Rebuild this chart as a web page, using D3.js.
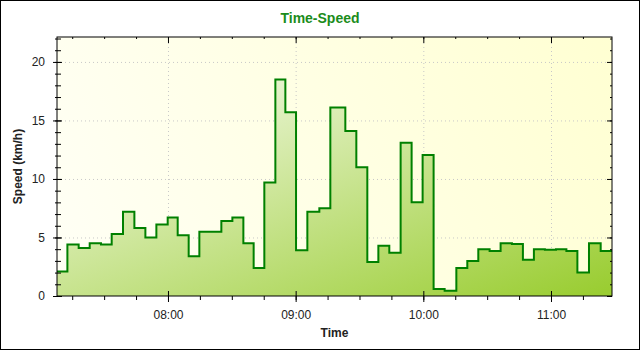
<!DOCTYPE html>
<html>
<head>
<meta charset="utf-8">
<script src="https://cdn.jsdelivr.net/npm/d3@7"></script>
<style>
  body { margin: 0; background: #fff; }
  #vis { width: 640px; height: 350px; }
  text { font-family: "Liberation Sans", Arial, sans-serif; }
  .tick text { font-size: 12px; fill: #222; }
  .axis path, .axis line { stroke: #000; }
  .grid line { stroke: #c8c8c8; stroke-dasharray: 1,3; }
  .grid path { display: none; }
</style>
</head>
<body>
<div id="vis"></div>
<script>
// step start times and speed (km/h) for each step
var times = ["07:07:51", "07:12:44", "07:18:02", "07:23:13", "07:28:31", "07:33:33", "07:38:52",
    "07:44:13", "07:49:23", "07:54:33", "07:59:52", "08:04:34", "08:09:44", "08:14:45",
    "08:25:05", "08:30:16", "08:35:26", "08:40:16", "08:45:17", "08:50:28", "08:55:10",
    "09:00:11", "09:05:30", "09:11:08", "09:16:18", "09:23:21", "09:28:31", "09:33:41",
    "09:38:52", "09:44:01", "09:49:20", "09:54:30", "09:59:40", "10:04:50", "10:10:01",
    "10:15:31", "10:20:40", "10:25:50", "10:31:09", "10:36:19", "10:41:38", "10:46:48",
    "10:51:58", "10:57:08", "11:02:21", "11:07:14", "11:12:24", "11:17:51", "11:23:21"];
var speeds = [2.1, 4.4, 4.1, 4.5, 4.4, 5.3, 7.2,
    5.8, 5.0, 6.1, 6.7, 5.2, 3.4, 5.5,
    6.4, 6.7, 4.5, 2.4, 9.7, 18.5, 15.7,
    3.9, 7.2, 7.5, 16.1, 14.1, 11.0, 2.9,
    4.3, 3.7, 13.1, 8.0, 12.05, 0.6, 0.45,
    2.4, 3.0, 4.0, 3.85, 4.5, 4.45, 3.1,
    4.0, 3.95, 4.0, 3.85, 2.0, 4.5, 3.85];
var endTime = "11:28:40";
var yTicks = [0, 5, 10, 15, 20];
var yMax = 22.13;

var chartTitle = "Time-Speed";
var xTitle = "Time";
var yTitle = "Speed (km/h)";

var W = 640, H = 350;
var margin = { top: 37, right: 28, bottom: 54, left: 57 };
var width = W - margin.left - margin.right;
var height = H - margin.top - margin.bottom;

var parse = d3.timeParse("%H:%M:%S");
var data = times.map(function(t, i) {
    return { t: parse(t), v: speeds[i] };
});
// close the last step at the end of the range
data.push({ t: parse(endTime), v: speeds[speeds.length - 1] });

var root = d3.select('#vis')
    .append('svg')
    .attr('width', W)
    .attr('height', H);

var defs = root.append('defs');

var bg = defs.append('linearGradient')
    .attr('id', 'bg')
    .attr('gradientUnits', 'userSpaceOnUse')
    .attr('x1', 0).attr('y1', height)
    .attr('x2', width).attr('y2', 0);
bg.append('stop').attr('offset', 0).attr('stop-color', '#fffff6');
bg.append('stop').attr('offset', 1).attr('stop-color', '#ffffd2');

// fill gets greener towards the bottom, a bit more to the right
var fg = defs.append('linearGradient')
    .attr('id', 'fg')
    .attr('gradientUnits', 'userSpaceOnUse')
    .attr('x1', 0).attr('y1', 15)
    .attr('x2', 145).attr('y2', 404);
fg.append('stop').attr('offset', 0).attr('stop-color', '#ffffff');
fg.append('stop').attr('offset', 1).attr('stop-color', '#9acd32');

// outer border
root.append('rect')
    .attr('x', 0.5).attr('y', 0.5)
    .attr('width', W - 1).attr('height', H - 1)
    .attr('fill', 'none')
    .attr('stroke', '#000');

var svg = root.append('g')
    .attr('transform', 'translate(' + margin.left + ',' + margin.top + ')');

var x_scale = d3.scaleTime()
    .domain([data[0].t, data[data.length - 1].t])
    .range([0, width]);

var y_scale = d3.scaleLinear()
    .domain([0, yMax])
    .range([height, 0]);

svg.append('rect')
    .attr('width', width)
    .attr('height', height)
    .attr('fill', 'url(#bg)');

var hours = d3.timeHour.every(1);
var quarters = d3.timeMinute.every(15);
var minorY = d3.range(0, 23);

// grid
svg.append('g')
    .attr('class', 'grid')
    .call(d3.axisLeft(y_scale).tickValues(yTicks.slice(1)).tickSize(-width).tickFormat(''));
svg.append('g')
    .attr('class', 'grid')
    .attr('transform', 'translate(0,' + height + ')')
    .call(d3.axisBottom(x_scale).ticks(hours).tickSize(-height).tickFormat(''));

var area = d3.area()
    .curve(d3.curveStepAfter)
    .x(function(d) { return x_scale(d.t); })
    .y0(height)
    .y1(function(d) { return y_scale(d.v); });

var line = d3.line()
    .curve(d3.curveStepAfter)
    .x(function(d) { return x_scale(d.t); })
    .y(function(d) { return y_scale(d.v); });

svg.append('path')
    .datum(data)
    .attr('d', area)
    .attr('fill', 'url(#fg)');

svg.append('path')
    .datum(data)
    .attr('d', line)
    .attr('fill', 'none')
    .attr('stroke', '#008000')
    .attr('stroke-width', 2)
    .attr('stroke-linejoin', 'miter');

function tickAxis(axis, tx, ty) {
    var g = svg.append('g')
        .attr('class', 'axis')
        .attr('transform', 'translate(' + tx + ',' + ty + ')')
        .call(axis);
    g.select('.domain').remove();
    return g;
}

// left axis: labels + ticks crossing the axis line
tickAxis(d3.axisLeft(y_scale).tickValues(minorY).tickSize(2).tickFormat(''), 0, 0);
tickAxis(d3.axisRight(y_scale).tickValues(minorY).tickSize(4).tickFormat(''), 0, 0);
tickAxis(d3.axisRight(y_scale).tickValues(yTicks).tickSize(5).tickFormat(''), 0, 0);
tickAxis(d3.axisLeft(y_scale).tickValues(yTicks).tickSize(4).tickPadding(8), 0, 0);

// right axis: inward ticks
tickAxis(d3.axisLeft(y_scale).tickValues(minorY).tickSize(2).tickFormat(''), width, 0);
tickAxis(d3.axisLeft(y_scale).tickValues(yTicks).tickSize(5).tickFormat(''), width, 0);

// bottom axis
tickAxis(d3.axisBottom(x_scale).ticks(quarters).tickSize(4).tickFormat(''), 0, height);
tickAxis(d3.axisTop(x_scale).ticks(hours).tickSize(5).tickFormat(''), 0, height);
tickAxis(d3.axisBottom(x_scale).ticks(hours).tickSize(6).tickPadding(8)
    .tickFormat(d3.timeFormat('%H:%M')), 0, height);

// top axis: inward ticks
tickAxis(d3.axisBottom(x_scale).ticks(quarters).tickSize(2).tickFormat(''), 0, 0);
tickAxis(d3.axisBottom(x_scale).ticks(hours).tickSize(6).tickFormat(''), 0, 0);

// plot frame
svg.append('rect')
    .attr('x', 0).attr('y', 0)
    .attr('width', width).attr('height', height)
    .attr('fill', 'none')
    .attr('stroke', '#000')
    .attr('stroke-width', 1);

root.append('text')
    .attr('x', W / 2)
    .attr('y', 23)
    .attr('text-anchor', 'middle')
    .attr('font-family', 'DejaVu Sans')
    .attr('font-size', 14)
    .attr('font-weight', 'bold')
    .attr('fill', '#1b8c1b')
    .text(chartTitle);

root.append('text')
    .attr('x', margin.left + width / 2)
    .attr('y', 337)
    .attr('text-anchor', 'middle')
    .attr('font-size', 12)
    .attr('font-weight', 'bold')
    .attr('fill', '#222')
    .text(xTitle);

root.append('text')
    .attr('transform', 'translate(22,' + (margin.top + height / 2) + ') rotate(-90)')
    .attr('text-anchor', 'middle')
    .attr('font-size', 12)
    .attr('font-weight', 'bold')
    .attr('fill', '#222')
    .text(yTitle);
</script>
</body>
</html>
